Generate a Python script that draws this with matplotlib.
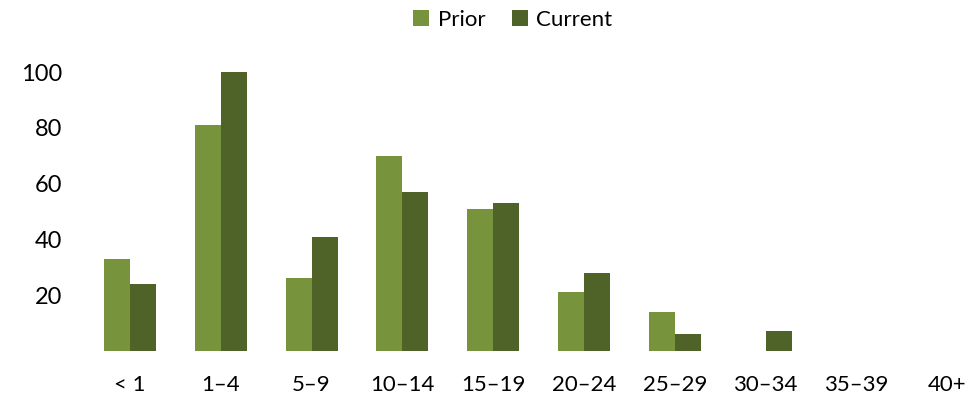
import matplotlib.pyplot as plt
import numpy as np

plt.rcParams['font.family'] = ['Lato', 'DejaVu Sans']

categories = ['< 1', '1–4', '5–9', '10–14', '15–19', '20–24', '25–29', '30–34', '35–39', '40+']
prior = [33, 81, 26, 70, 51, 21, 14, 0, 0, 0]
current = [24, 100, 41, 57, 53, 28, 6, 7, 0, 0]
yticks = [20, 40, 60, 80, 100]

c_prior = '#77933C'
c_current = '#4F6228'

fig = plt.figure(figsize=(9.77, 3.99), dpi=100)
ax = fig.add_axes([0.0866, 0.1203, 0.9154, 0.699 * 1.05])

x = np.arange(len(categories))
w = 0.286
ax.bar(x - w / 2, prior, w, color=c_prior, label='Prior')
ax.bar(x + w / 2, current, w, color=c_current, label='Current')

ax.set_xlim(-0.5, 9.35)
ax.set_ylim(0, 105)
ax.set_xticks(x)
ax.set_xticklabels(categories, fontsize=16)
ax.set_yticks(yticks)
ax.set_yticklabels([str(v) for v in yticks], fontsize=17)
ax.tick_params(axis='x', length=0, pad=17)
ax.tick_params(axis='y', length=0, pad=16)
for s in ax.spines.values():
    s.set_visible(False)

fig.legend(loc='upper center', bbox_to_anchor=(0.525, 1.025), ncol=2, frameon=False,
           fontsize=16, handlelength=0.7, handleheight=0.7, handletextpad=0.4,
           columnspacing=1.2)

fig.savefig('out.png', dpi=100)
